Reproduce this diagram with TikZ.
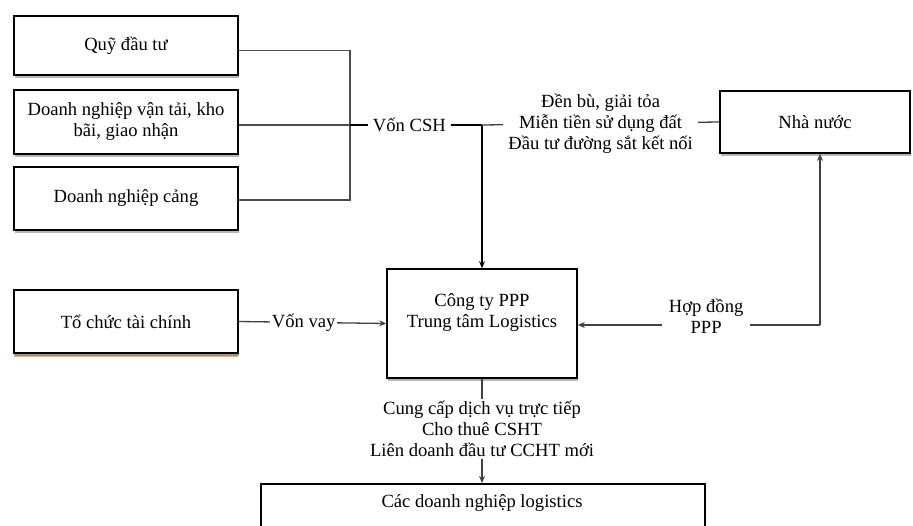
\documentclass[tikz,border=0pt]{standalone}
\usepackage{fontspec}
\setmainfont{Liberation Serif}
\usetikzlibrary{arrows.meta,shadows}
\begin{document}
\begin{tikzpicture}[x=1pt,y=-1pt,
  font=\fontsize{18.6}{21}\selectfont,
  box/.style={draw=black,line width=1.6pt,fill=white,align=center,inner sep=0pt,
    drop shadow={shadow xshift=0.5pt,shadow yshift=-2.5pt,fill=black!40,opacity=0.7}},
  feed/.style={draw=black!70,line width=1.3pt},
  main/.style={draw=black,line width=1.8pt},
  link/.style={draw=black!75,line width=1.3pt},
  tip/.style={-{Stealth[length=7pt,width=6pt]}},
  lbl/.style={fill=white,inner sep=2pt,align=center}]
\useasboundingbox (0,0) rectangle (913,525);
\clip (0,0) rectangle (913,525);

% source boxes on the left
\node[box,minimum width=224pt,minimum height=59pt] (q1) at (126,45.5) {Quỹ đầu tư};
\node[box,minimum width=224pt,minimum height=64pt] (q2) at (126,122) {Doanh nghiệp vận tải, kho\\bãi, giao nhận};
\node[box,minimum width=224pt,minimum height=63pt] (q3) at (126,198.5) {Doanh nghiệp cảng};
\node[box,minimum width=224pt,minimum height=63pt,
  drop shadow={shadow xshift=0pt,shadow yshift=-4pt,fill=brown!80!black}] (tc) at (126,321.5) {Tổ chức tài chính};

% central company and the state
\node[box,minimum width=190pt,minimum height=109pt] (cty) at (482,323.5) {};
\node[align=center] (ctyt) at (482,313) {Công ty PPP\\Trung tâm Logistics};
\node[box,minimum width=190pt,minimum height=62pt] (nn) at (815,122) {Nhà nước};

% customers at the bottom
\node[box,minimum width=444pt,minimum height=60pt,anchor=north] (cdn) at (483,483) {};
\node (cdnt) at (482,503) {Các doanh nghiệp logistics};

% equity collection bus
\coordinate (bus) at (350,125);
\coordinate (jn) at (482,125);
\coordinate (bend) at (820,325);

\draw[feed] ([yshift=-5pt]q1.east) -| (bus);
\draw[feed] ([yshift=-1.5pt]q3.east) -| (bus);
\draw[feed] ([yshift=-3pt]q2.east) -- (bus);
\draw[main] (bus) -- node[lbl,pos=0.45,inner xsep=5pt]{Vốn CSH} (jn);
\draw[main,tip] (jn) -- (cty.north);

% state support
\draw[link] (nn.west) -- node[lbl,inner xsep=5pt]{Đền bù, giải tỏa\\Miễn tiền sử dụng đất\\Đầu tư đường sắt kết nối} (jn);

% PPP contract
\draw[link,tip] (bend) -- node[lbl,pos=0.47,yshift=9pt,inner xsep=7pt,inner ysep=8pt]{Hợp đồng\\PPP} (cty.east |- bend);
\draw[link,tip] (bend) -- (bend |- nn.south);

% loans
\draw[link,tip] (tc.east) -- node[lbl,pos=0.44]{Vốn vay} (cty.west);

% services
\draw[link,tip] (cty.south) -- node[lbl,yshift=2pt]{Cung cấp dịch vụ trực tiếp\\Cho thuê CSHT\\Liên doanh đầu tư CCHT mới} (cty.south |- cdn.north);
\end{tikzpicture}
\end{document}
